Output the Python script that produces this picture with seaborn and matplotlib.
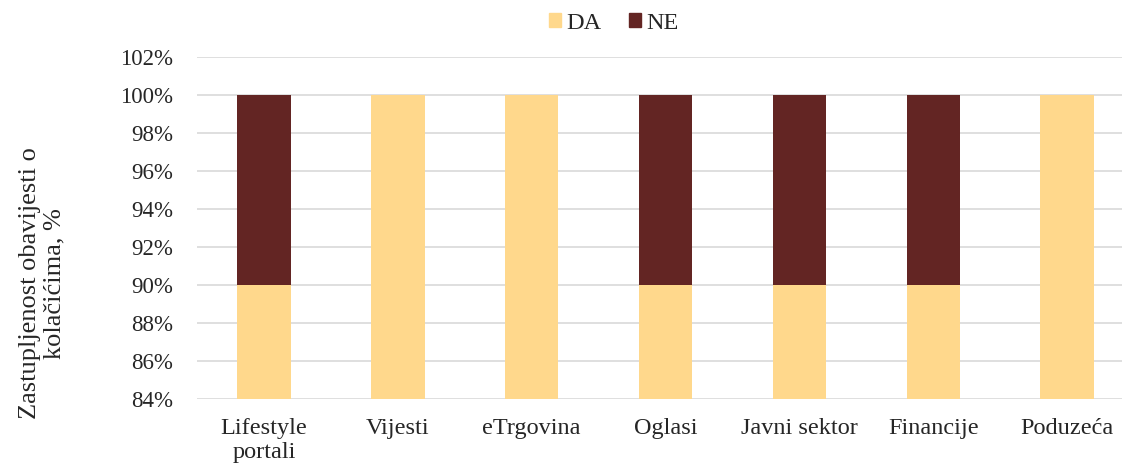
import numpy as np
import pandas as pd
import matplotlib
matplotlib.use('Agg')
import matplotlib.pyplot as plt
import seaborn as sns
from matplotlib.ticker import PercentFormatter
from matplotlib.patches import Patch

# ===================== 数据 =====================
categories = ['Lifestyle\nportali', 'Vijesti', 'eTrgovina', 'Oglasi',
              'Javni sektor', 'Financije', 'Poduzeća']
da_values = [90, 100, 100, 90, 90, 90, 100]
ne_values = [10, 0, 0, 10, 10, 10, 0]
y_label = 'Zastupljenost obavijesti o\nkolačićima, %'

df = pd.DataFrame({'kategorija': categories, 'DA': da_values, 'NE': ne_values})
df['ukupno'] = df['DA'] + df['NE']

# ===================== 样式 =====================
sns.set_style('white')
plt.rcParams['font.family'] = ['Liberation Serif', 'DejaVu Serif']
col_da = '#FFD88C'
col_ne = '#632523'

fig = plt.figure(figsize=(11.22, 4.68), dpi=100)
# axes extends a bit past the right edge, like the source (gridlines run to the border)
ax = fig.add_axes([0.1756, 0.1474, 0.8352, 0.7306])

# NE stacked on DA: draw total first, then DA on top
sns.barplot(data=df, x='kategorija', y='ukupno', color=col_ne, width=0.40,
            saturation=1, linewidth=0, ax=ax, zorder=3)
sns.barplot(data=df, x='kategorija', y='DA', color=col_da, width=0.40,
            saturation=1, linewidth=0, ax=ax, zorder=4)

ax.set_ylim(84, 102)
ax.set_yticks(np.arange(84, 103, 2))
ax.yaxis.set_major_formatter(PercentFormatter(decimals=0))
ax.grid(axis='y', color='#d9d9d9', linewidth=1.2, zorder=0)
ax.set_axisbelow(True)
for s in ax.spines.values():
    s.set_visible(False)
ax.tick_params(axis='x', length=0, labelsize=17.5, pad=14)
ax.tick_params(axis='y', length=0, labelsize=16.5, pad=17)
for lbl in ax.get_xticklabels():
    lbl.set_linespacing(1.15)
ax.set_xlabel('')
ax.set_ylabel('')

fig.text(0.0375, 0.395, y_label, rotation=90, ha='center', va='center',
         multialignment='center', fontsize=19, linespacing=1.12)

handles = [Patch(color=col_da, label='DA'), Patch(color=col_ne, label='NE')]
fig.legend(handles=handles, loc='upper center', bbox_to_anchor=(0.547, 1.02),
           ncol=2, frameon=False, fontsize=17.5, handlelength=0.5,
           handleheight=0.5, handletextpad=0.2, columnspacing=1.15)

plt.savefig('out.png', dpi=100)
plt.close()
